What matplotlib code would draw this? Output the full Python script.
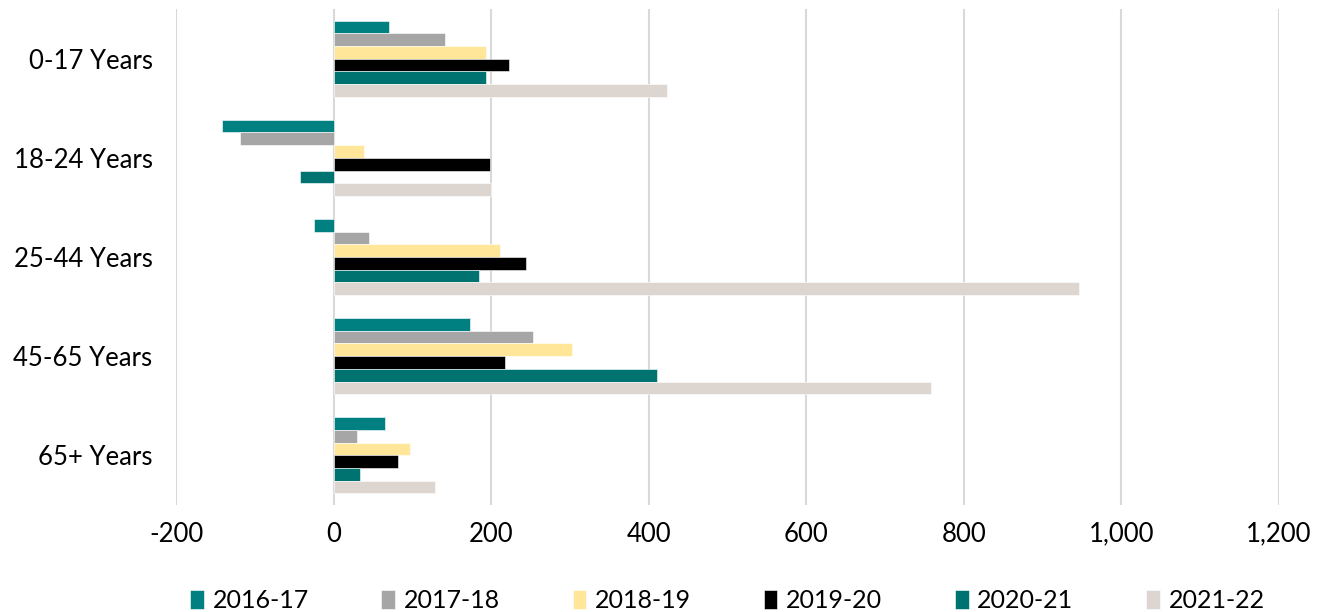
import numpy as np
import matplotlib.pyplot as plt

plt.rcParams['font.family'] = ['Lato', 'DejaVu Sans']

categories = ['0-17 Years', '18-24 Years', '25-44 Years', '45-65 Years', '65+ Years']
years = ['2016-17', '2017-18', '2018-19', '2019-20', '2020-21', '2021-22']
values = {
    '2016-17': [70, -142, -25, 173, 65],
    '2017-18': [141, -119, 45, 253, 30],
    '2018-19': [193, 38, 211, 303, 97],
    '2019-20': [223, 199, 244, 218, 82],
    '2020-21': [194, -43, 184, 411, 34],
    '2021-22': [423, 200, 947, 758, 128],
}
colors = ['#008080', '#A6A6A6', '#FFE699', '#000000', '#007370', '#DDD6D0']

fig = plt.figure(figsize=(13.25, 6.12), dpi=100)
ax = fig.add_axes([0.133, 0.175, 0.832, 0.81])

y = np.arange(len(categories))
group = 0.77
h = group / len(years)
for j, yr in enumerate(years):
    pos = y - group / 2 + (j + 0.5) * h
    ax.barh(pos, values[yr], height=h, color=colors[j], label=yr,
            edgecolor='white', linewidth=0.4, zorder=3)

ax.set_xlim(-200, 1200)
ax.set_ylim(4.5, -0.5)
ax.set_xticks(range(-200, 1201, 200))
ax.set_xticklabels([f'{v:,}' for v in range(-200, 1201, 200)])
ax.set_yticks(y)
ax.set_yticklabels(categories)
ax.tick_params(axis='both', length=0, labelsize=18.5, colors='#000000')
ax.tick_params(axis='x', pad=12)
ax.tick_params(axis='y', pad=17)
ax.grid(axis='x', color='#D9D9D9', linewidth=1.5, zorder=0)
for s in ax.spines.values():
    s.set_visible(False)

ax.legend(loc='lower center', bbox_to_anchor=(0.5, -0.262), ncol=6, frameon=False,
          fontsize=18, handlelength=0.55, handleheight=0.75, handletextpad=0.35,
          columnspacing=2.9)

fig.savefig('out.png', dpi=100)
